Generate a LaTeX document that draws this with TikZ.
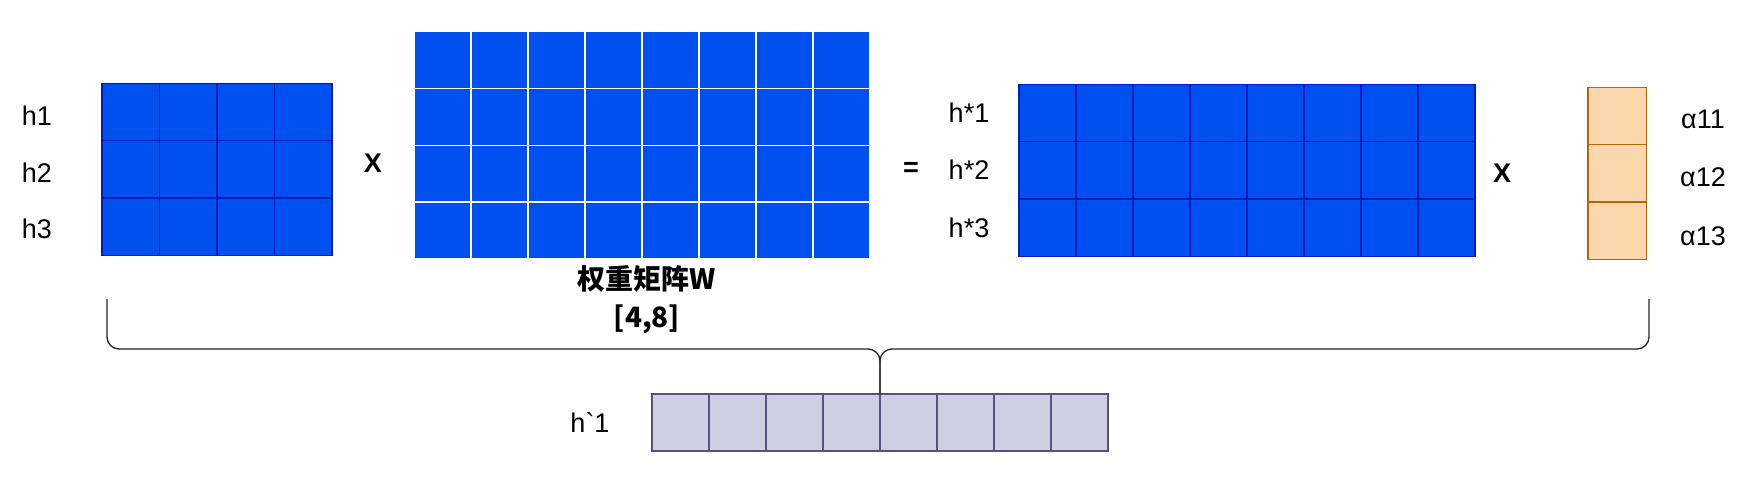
\documentclass[tikz,border=0pt]{standalone}
\usepackage{fontspec}
\setmainfont{Liberation Sans}[Ligatures=TeXOff]
\newfontfamily\cjk{Noto Sans CJK SC}
\definecolor{mblue}{HTML}{0050EF}
\definecolor{mbluedk}{HTML}{001DBC}
\definecolor{morange}{HTML}{FAD7AC}
\definecolor{morangedk}{HTML}{B46504}
\definecolor{mpurple}{HTML}{D0CEE2}
\definecolor{mpurpledk}{HTML}{56517E}
\begin{document}
\begin{tikzpicture}[x=1pt,y=-1pt,
  cell/.style={rectangle,inner sep=0pt,outer sep=0pt,anchor=north west,line width=1.2pt},
  hcell/.style={cell,fill=mblue,draw=mbluedk,minimum width=57.5pt,minimum height=57.2pt},
  wcell/.style={cell,fill=mblue,draw=white,minimum width=57pt,minimum height=56.8pt},
  hscell/.style={cell,fill=mblue,draw=mbluedk,minimum width=57pt,minimum height=57.2pt},
  acell/.style={cell,fill=morange,draw=morangedk,minimum width=58.5pt,minimum height=57.2pt},
  pcell/.style={cell,fill=mpurple,draw=mpurpledk,minimum width=57pt,minimum height=57pt},
  lbl/.style={font=\fontsize{27}{32}\selectfont,inner sep=0pt},
  op/.style={font=\fontsize{27}{32}\selectfont\bfseries,inner sep=0pt},
  brace/.style={draw=black!85,line width=1.3pt,rounded corners=12pt}]
\path[fill=white,use as bounding box] (0,0) rectangle (1764,501);

% h matrix
\foreach \r in {1,2,3}
  \foreach \c in {1,...,4}
    \node[hcell] (h-\r-\c) at ({102+(\c-1)*57.5},{83.5+(\r-1)*57.2}) {};
\node[lbl] (lh1) at (37,116) {h1};
\node[lbl] (lh2) at (37,173) {h2};
\node[lbl] (lh3) at (37,229) {h3};
\node[op] (x1) at (373,163) {X};

% W matrix
\foreach \r in {1,...,4}
  \foreach \c in {1,...,8}
    \node[wcell] (w-\r-\c) at ({414+(\c-1)*57},{31.5+(\r-1)*56.8}) {};
\node[inner sep=0pt,align=center,font=\cjk\bfseries\fontsize{28}{38}\selectfont] (wlbl) at (647,300) {权重矩阵W\\{[4,8]}};

\node[op] (eq) at (911,169) {=};

% h* matrix
\foreach \r in {1,2,3}
  \foreach \c in {1,...,8}
    \node[hscell] (hs-\r-\c) at ({1019+(\c-1)*57},{84.5+(\r-1)*57.2}) {};
\node[lbl] (lhs1) at (969,113) {h*1};
\node[lbl] (lhs2) at (969,170) {h*2};
\node[lbl] (lhs3) at (969,228) {h*3};
\node[op] (x2) at (1502,173) {X};

% alpha column
\foreach \r in {1,2,3}
  \node[acell] (a-\r) at (1588,{87.5+(\r-1)*57.2}) {};
\node[lbl] (la1) at (1703,119) {α11};
\node[lbl] (la2) at (1703,177) {α12};
\node[lbl] (la3) at (1703,236) {α13};

% h`1 row
\foreach \c in {1,...,8}
  \node[pcell] (hp-\c) at ({652+(\c-1)*57},394) {};
\node[lbl] (lhp) at (590,423) {h`1};

% brace
\coordinate (bl) at (107,299);
\coordinate (br) at (1649,299);
\coordinate (tip) at (hp-4.north east |- 0,349);
\draw[brace] (bl) -- (bl |- tip) -- (tip) -- (hp-4.north east);
\draw[brace] (br) -- (br |- tip) -- (tip) -- (hp-4.north east);
\end{tikzpicture}
\end{document}
